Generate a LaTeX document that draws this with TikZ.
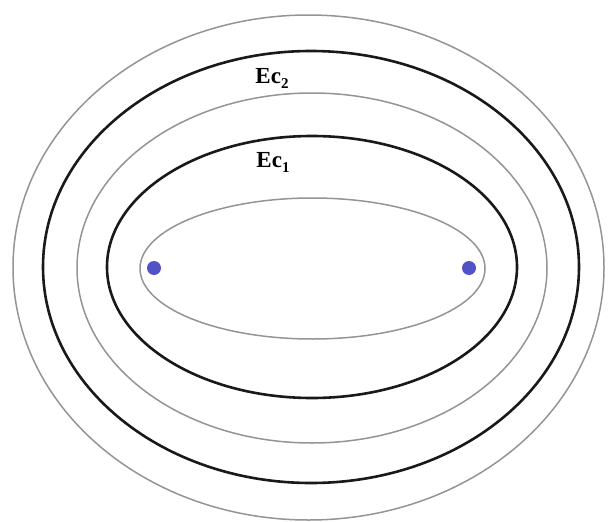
\documentclass[tikz,border=0pt]{standalone}
\usepackage{fontspec}
\setmainfont{Liberation Serif}
\begin{document}
\begin{tikzpicture}[x=1pt,y=-1pt,
  grayline/.style={draw=black!42,line width=1.5pt},
  blackline/.style={draw=black!90,line width=2.6pt},
  charge/.style={circle,fill=dotblue,inner sep=0pt,minimum size=14pt},
  lbl/.style={font=\bfseries\fontsize{23}{26}\selectfont,inner sep=0pt}]
\definecolor{dotblue}{RGB}{82,82,200}
\useasboundingbox (0,0) rectangle (608,522);
\draw[grayline] (308.5,267.5) ellipse [x radius=295.5, y radius=252.5];
\draw[blackline] (311,267) ellipse [x radius=268, y radius=216];
\draw[grayline] (312,268) ellipse [x radius=235, y radius=175];
\draw[blackline] (312,267) ellipse [x radius=205, y radius=131];
\draw[grayline] (312.5,268.5) ellipse [x radius=172.5, y radius=70.5];
\node[charge] (q1) at (154,268) {};
\node[charge] (q2) at (469,268) {};
\node[lbl] (ec2) at (272,78) {Ec\raisebox{-5pt}{\fontsize{15}{17}\selectfont 2}};
\node[lbl] (ec1) at (273,162) {Ec\raisebox{-5pt}{\fontsize{15}{17}\selectfont 1}};
\end{tikzpicture}
\end{document}
